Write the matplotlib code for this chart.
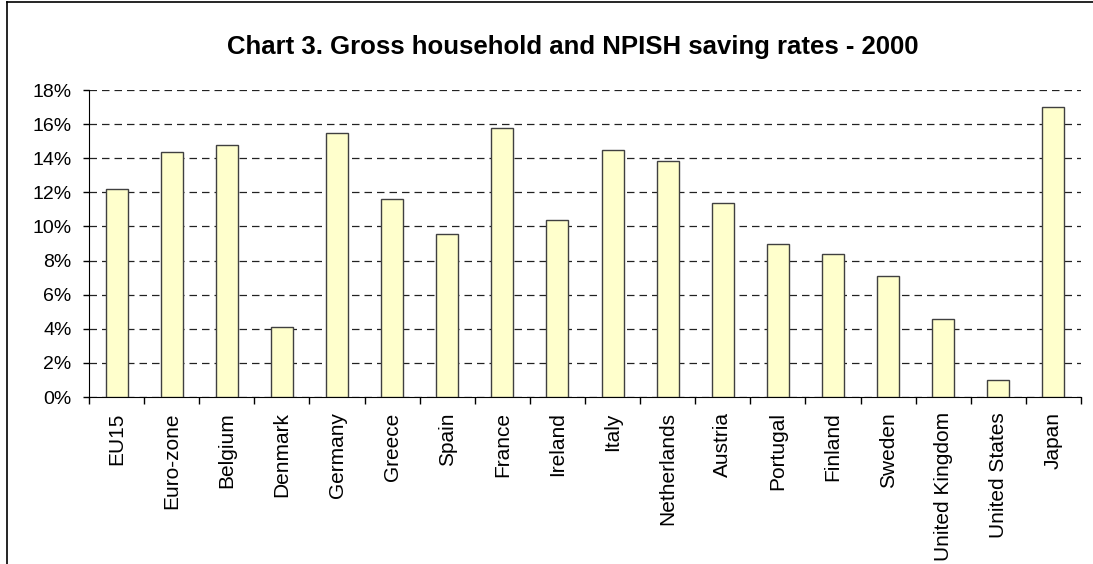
import matplotlib.pyplot as plt
from matplotlib.lines import Line2D
from matplotlib.ticker import FuncFormatter

countries = ["EU15", "Euro-zone", "Belgium", "Denmark", "Germany", "Greece",
             "Spain", "France", "Ireland", "Italy", "Netherlands", "Austria",
             "Portugal", "Finland", "Sweden", "United Kingdom", "United States",
             "Japan"]
saving_rates = [12.2, 14.35, 14.75, 4.1, 15.5, 11.6, 9.55, 15.75, 10.35,
                14.5, 13.85, 11.35, 8.95, 8.4, 7.1, 4.6, 1.0, 17.0]

plt.rcParams["font.family"] = ["Liberation Sans", "DejaVu Sans"]

fig = plt.figure(figsize=(10.93, 5.64), dpi=100)
ax = fig.add_axes([89 / 1093, 1 - 397 / 564, (1081 - 89) / 1093, (397 - 90) / 564])

x = list(range(len(countries)))
ax.bar(x, saving_rates, width=0.4, color="#FFFFCC", edgecolor="#404040",
       linewidth=1.0, zorder=3)

ax.set_xlim(-0.5, len(countries) - 0.5)
ax.set_ylim(0, 18)
ax.set_yticks(range(0, 19, 2))
ax.yaxis.set_major_formatter(FuncFormatter(lambda v, p: f"{v:.0f}%"))
ax.grid(axis="y", color="#222222", linestyle=(0, (6, 4)), linewidth=0.9, zorder=1)

# labels under the bars, ticks between the categories
ax.set_xticks(x)
ax.set_xticklabels(countries, rotation=90, fontsize=15)
ax.tick_params(axis="x", which="major", length=0, pad=11)
ax.set_xticks([i - 0.5 for i in range(len(countries) + 1)], minor=True)
ax.tick_params(axis="x", which="minor", length=5, width=1, direction="out")
ax.tick_params(axis="y", labelsize=14, length=4.5, width=1, pad=8)

for s in ["top", "right"]:
    ax.spines[s].set_visible(False)
ax.spines["left"].set_color("black")
ax.spines["bottom"].set_color("black")

fig.text(573 / 1093, 1 - 47 / 564, "Chart 3. Gross household and NPISH saving rates - 2000",
         ha="center", va="center", fontsize=18.5, fontweight="bold")

# outer frame of the original sheet
fig.add_artist(Line2D([7 / 1093, 1], [1 - 2 / 564, 1 - 2 / 564], color="black", linewidth=1.2))
fig.add_artist(Line2D([7 / 1093, 7 / 1093], [0, 1 - 2 / 564], color="black", linewidth=1.2))

fig.savefig("out.png", dpi=100)
